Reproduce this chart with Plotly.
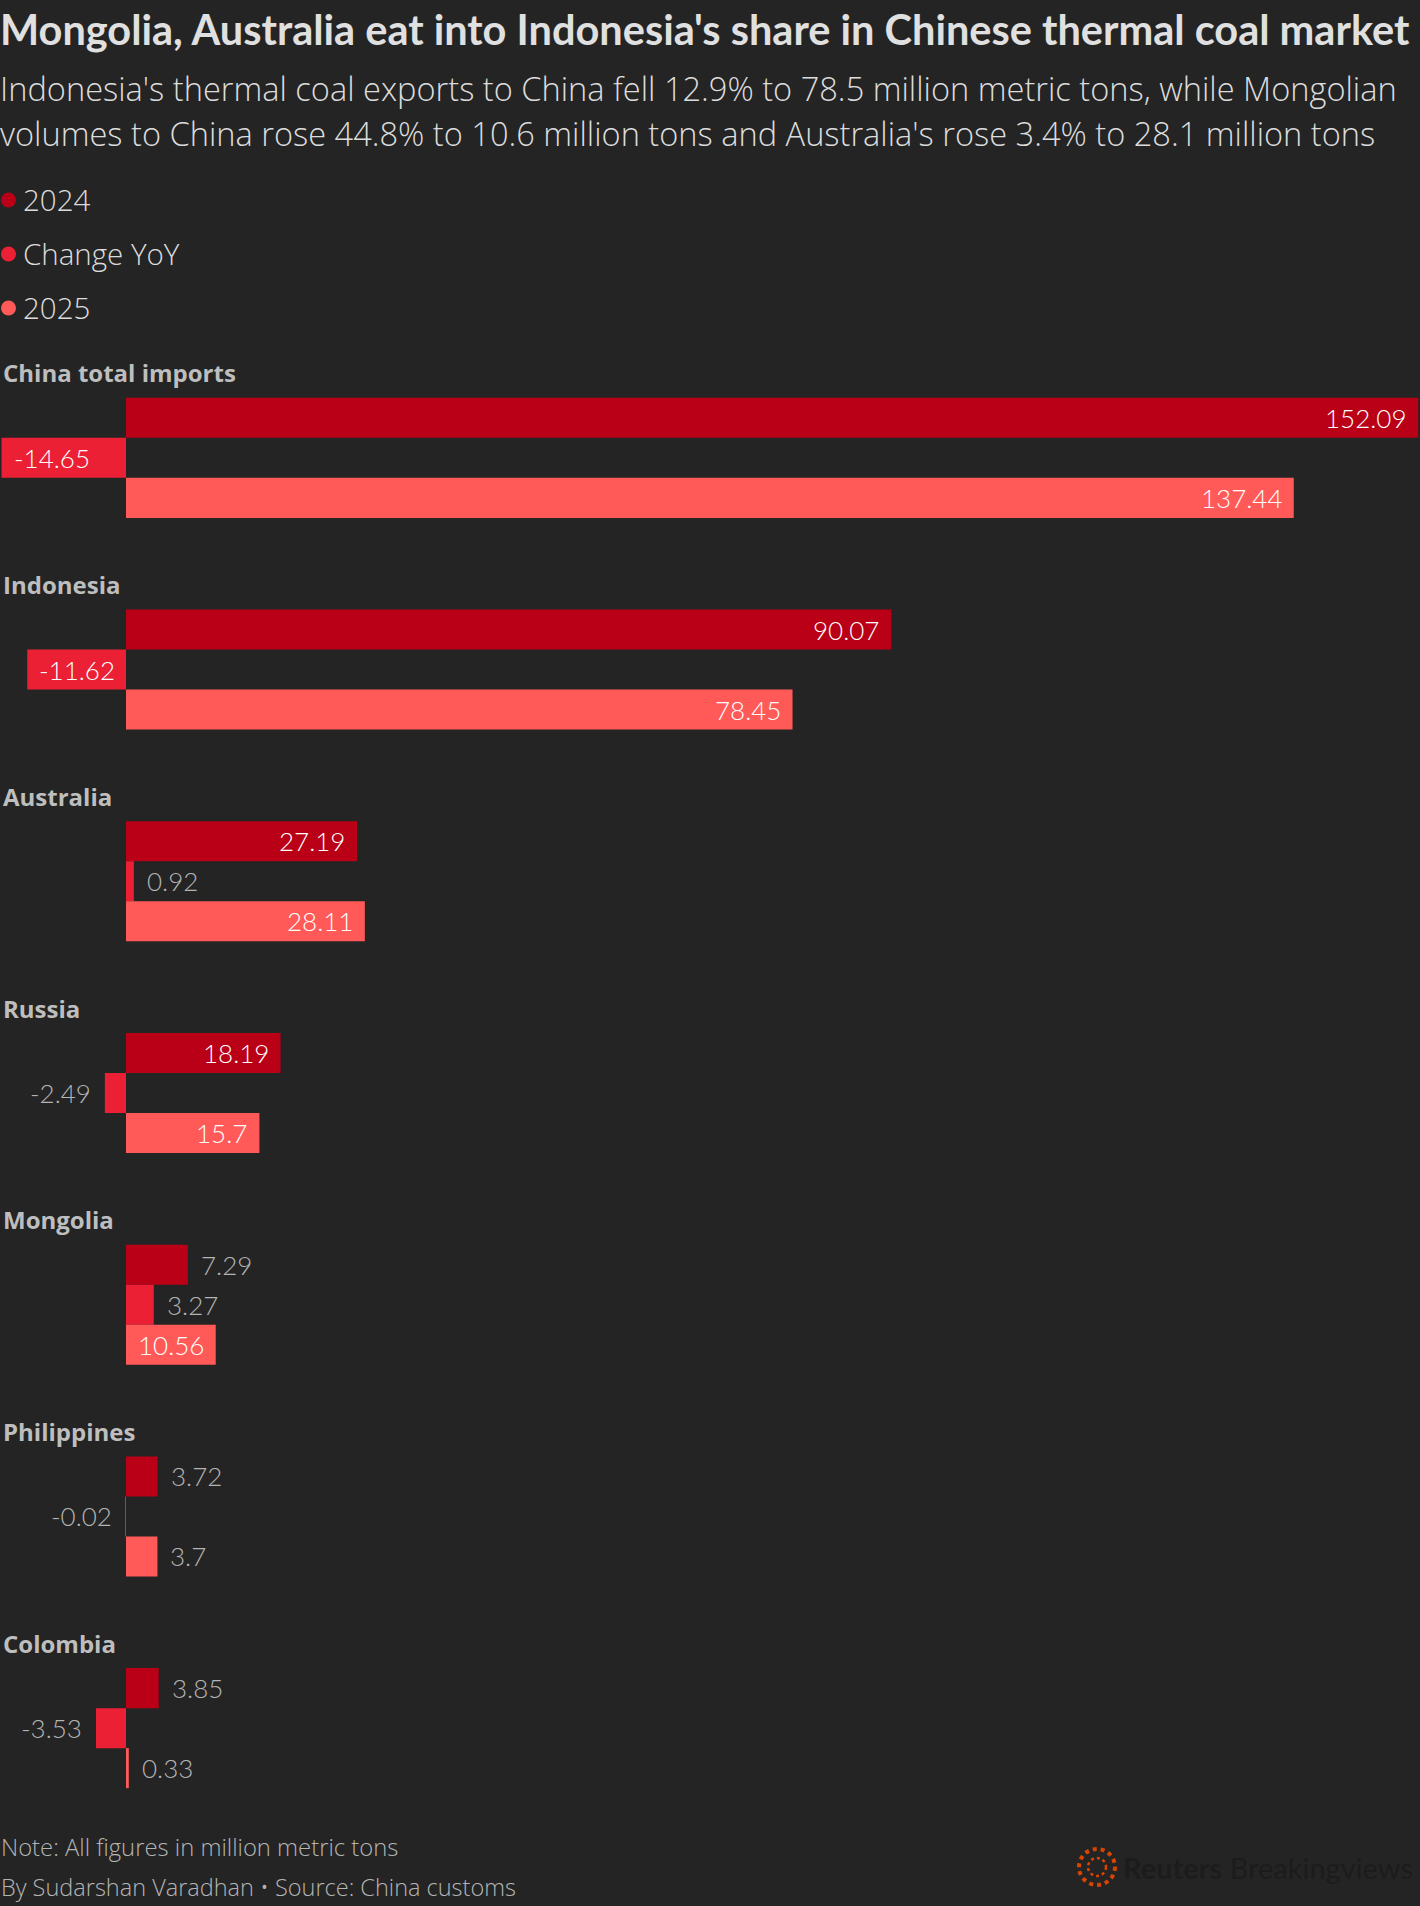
import plotly.graph_objects as go

countries = ["China total imports", "Indonesia", "Australia", "Russia", "Mongolia", "Philippines", "Colombia"]
series_names = ["2024", "Change YoY", "2025"]
v2024 = [152.09, 90.07, 27.19, 18.19, 7.29, 3.72, 3.85]
vchange = [-14.65, -11.62, 0.92, -2.49, 3.27, -0.02, -3.53]
v2025 = [137.44, 78.45, 28.11, 15.7, 10.56, 3.7, 0.33]
colors = ["#b90016", "#eb2035", "#ff5a57"]

title = "Mongolia, Australia eat into Indonesia's share in Chinese thermal coal market"
subtitle = ["Indonesia's thermal coal exports to China fell 12.9% to 78.5 million metric tons, while Mongolian",
            "volumes to China rose 44.8% to 10.6 million tons and Australia's rose 3.4% to 28.1 million tons"]
note = "Note: All figures in million metric tons"
byline = "By Sudarshan Varadhan • Source: China customs"

W, H = 1420, 1906
MT, MB = 352, 72
PH = H - MT - MB
BG = "#242424"
FONT = "Lato"
TFONT = "Open Sans"


def py(y_px):
    return (H - MB - y_px) / PH


fig = go.Figure()
all_vals = [v2024, vchange, v2025]
for name, vals, col in zip(series_names, all_vals, colors):
    fig.add_trace(go.Bar(y=countries, x=vals, name=name, orientation="h",
                         marker=dict(color=col, line=dict(width=0)), showlegend=False,
                         hoverinfo="x+y"))

ann = []
shapes = []
# value labels
shifts = [40, 0, -40]
for vals, ys in zip(all_vals, shifts):
    for c, v in zip(countries, vals):
        inside = abs(v) >= 10
        if v >= 0:
            xanchor = "right" if inside else "left"
            xs = -10 if inside else 11
        else:
            xanchor = "left" if inside else "right"
            xs = 10 if inside else -12
        ann.append(dict(x=v, y=c, xref="x", yref="y", text=f"{v:g}", showarrow=False,
                        xanchor=xanchor, yanchor="middle", xshift=xs, yshift=ys,
                        font=dict(family=FONT, size=26, weight=300,
                                  color="#ffffff" if inside else "#b4b4b4")))
# category labels
for c in countries:
    ann.append(dict(x=0, xref="paper", y=c, yref="y", text=c, showarrow=False,
                    xanchor="left", yanchor="middle", yshift=85, xshift=1,
                    font=dict(family=TFONT, size=24, weight=700, color="#bebebe")))
# subtitle
for i, line in enumerate(subtitle):
    ann.append(dict(x=0, xref="paper", y=py(88 + 45 * i), yref="paper", text=line,
                    showarrow=False, xanchor="left", yanchor="middle", xshift=-2,
                    font=dict(family=TFONT, size=32.6, weight=300, color="#dcdcdc")))
# legend
for i, (name, col) in enumerate(zip(series_names, colors)):
    yc = 200 + 54 * i
    shapes.append(dict(type="circle", xref="paper", yref="paper",
                       x0=1 / W, x1=16 / W, y0=py(yc + 7.5), y1=py(yc - 7.5),
                       fillcolor=col, line=dict(width=0)))
    ann.append(dict(x=21 / W, xref="paper", y=py(yc), yref="paper", text=name,
                    showarrow=False, xanchor="left", yanchor="middle",
                    font=dict(family=TFONT, size=29.5, weight=300, color="#dcdcdc")))
# footer
ann.append(dict(x=0, xref="paper", y=py(1847), yref="paper", text=note, showarrow=False,
                xanchor="left", yanchor="middle", xshift=-1,
                font=dict(family=TFONT, size=23.8, weight=300, color="#b4b4b4")))
ann.append(dict(x=0, xref="paper", y=py(1887), yref="paper", text=byline, showarrow=False,
                xanchor="left", yanchor="middle", xshift=-1,
                font=dict(family=TFONT, size=23.5, weight=300, color="#b4b4b4")))
ann.append(dict(x=1121 / W, xref="paper", y=py(1867), yref="paper",
                text="<b>Reuters</b> Breakingviews",
                showarrow=False, xanchor="left", yanchor="middle",
                font=dict(family=FONT, size=29, color="#1c1c1c")))

shapes.append(dict(type="circle", xref="paper", yref="paper",
                   x0=1079 / W, x1=1115 / W, y0=py(1885), y1=py(1849),
                   line=dict(color="#d94500", width=4, dash="dot")))
shapes.append(dict(type="circle", xref="paper", yref="paper",
                   x0=1088 / W, x1=1106 / W, y0=py(1876), y1=py(1858),
                   line=dict(color="#d94500", width=2.5, dash="dot")))

fig.update_layout(
    width=W, height=H,
    paper_bgcolor=BG, plot_bgcolor=BG,
    margin=dict(l=0, r=0, t=MT, b=MB, pad=0),
    barmode="group", bargap=0.433, bargroupgap=0,
    title=dict(text=f"<b>{title}</b>", x=0, xanchor="left", xref="paper",
               y=1 - 30 / H, yanchor="middle",
               font=dict(family=FONT, size=41.5, color="#e0e0e0")),
    xaxis=dict(range=[-14.83, 152.3], visible=False, showgrid=False, zeroline=False, fixedrange=True),
    yaxis=dict(type="category", categoryorder="array", categoryarray=countries,
               range=[len(countries) - 0.5, -0.5], visible=False, showgrid=False, fixedrange=True),
    annotations=ann, shapes=shapes,
    showlegend=False,
)

fig.write_html("out.html")
